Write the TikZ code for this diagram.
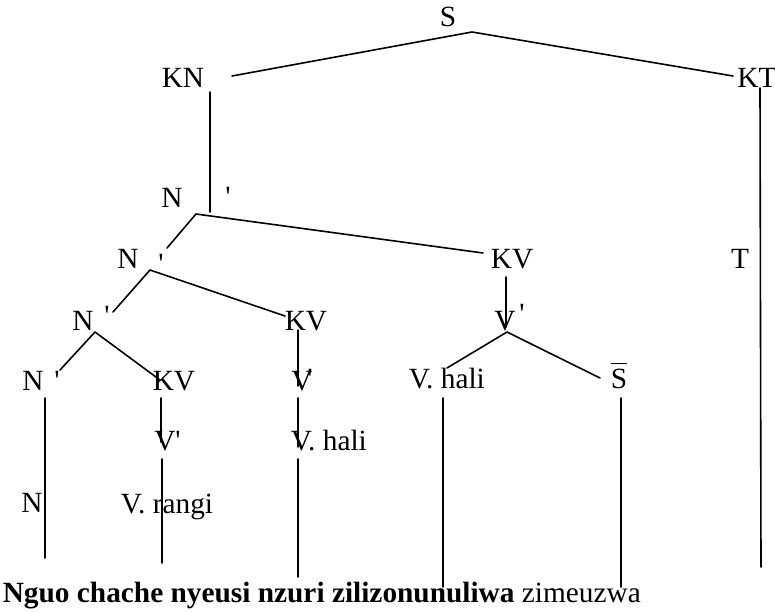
\documentclass[tikz,border=0pt]{standalone}
\usepackage{fontspec}
\setmainfont{Liberation Serif}

\begin{document}
\begin{tikzpicture}[line cap=round,line join=round,x=0.75pt,y=-0.75pt,line width=1.2pt,
  every node/.style={font=\fontsize{22}{26}\selectfont,inner sep=0pt,anchor=base}]
\useasboundingbox (0,0) rectangle (775,613);

% branch points and line ends
\coordinate (S0) at (472,32);
\coordinate (S1) at (232,76);
\coordinate (S2) at (733,76);
\coordinate (KN1) at (210,92);
\coordinate (KN2) at (210,212);
\coordinate (KT1) at (760,88);
\coordinate (KT2) at (761,567);
\coordinate (A0) at (196,214);
\coordinate (A1) at (167,248);
\coordinate (A2) at (483,253);
\coordinate (B0) at (150,270);
\coordinate (B1) at (113,312);
\coordinate (B2) at (285,316);
\coordinate (C0) at (95,332);
\coordinate (C1) at (60,370);
\coordinate (C2) at (160,380);
\coordinate (D1) at (45,398);
\coordinate (D2) at (45,558);
\coordinate (E1) at (161,398);
\coordinate (E2) at (161,442);
\coordinate (F1) at (162,459);
\coordinate (F2) at (162,563);
\coordinate (G1) at (298,330);
\coordinate (G2) at (298,386);
\coordinate (H1) at (298,398);
\coordinate (H2) at (298,447);
\coordinate (J1) at (298,459);
\coordinate (J2) at (298,577);
\coordinate (K1) at (506,277);
\coordinate (K2) at (506,327);
\coordinate (L0) at (507,332);
\coordinate (L1) at (447,368);
\coordinate (L2) at (600,378);
\coordinate (M1) at (443,398);
\coordinate (M2) at (443,587);
\coordinate (P1) at (621,398);
\coordinate (P2) at (621,587);

\draw (S1) -- (S0) -- (S2);
\draw (KN1) -- (KN2);
\draw (KT1) -- (KT2);
\draw (A1) -- (A0) -- (A2);
\draw (B1) -- (B0) -- (B2);
\draw (C1) -- (C0) -- (C2);
\draw (D1) -- (D2);
\draw (E1) -- (E2);
\draw (F1) -- (F2);
\draw (G1) -- (G2);
\draw (H1) -- (H2);
\draw (J1) -- (J2);
\draw (K1) -- (K2);
\draw (L1) -- (L0) -- (L2);
\draw (M1) -- (M2);
\draw (P1) -- (P2);

% labels
\draw[color=black] (448,27) node (S) {S};
\draw[color=black] (183,88) node (KN) {KN};
\draw[color=black] (757,88) node (KT) {KT};
\draw[color=black] (172,208) node (N1) {N};
\draw[color=black] (228,207) node (P1q) {\textquotesingle};
\draw[color=black] (128,268) node (N2) {N};
\draw[color=black] (161,273) node (P2q) {\textquotesingle};
\draw[color=black] (512,268) node (KV1) {KV};
\draw[color=black] (740,268) node (T) {T};
\draw[color=black] (83,330) node (N3) {N};
\draw[color=black] (107,325) node (P3q) {\textquotesingle};
\draw[color=black] (306,330) node (KV2) {KV};
\draw[color=black] (505,330) node (V1) {V};
\draw[color=black] (522,323) node (P4q) {\textquotesingle};
\draw[color=black] (33,390) node (N4) {N};
\draw[color=black] (57,390) node (P5q) {\textquotesingle};
\draw[color=black] (174,390) node (KV3) {KV};
\draw[color=black] (302,390) node (V2) {V};
\draw[color=black] (310,388) node (P6q) {\textquotesingle};
\draw[color=black] (408,388) node[anchor=base west] (VH1) {V. hali};
\draw[color=black] (619,388) node (SB) {$\overline{\hbox{S\rule{0pt}{17pt}}}$};
\draw[color=black] (165,450) node (V3) {V};
\draw[color=black] (178,450) node (P7q) {\textquotesingle};
\draw[color=black] (290,450) node[anchor=base west] (VH2) {V. hali};
\draw[color=black] (32,512) node (N5) {N};
\draw[color=black] (120,513) node[anchor=base west] (VR) {V. rangi};
\draw[color=black] (2,602) node[anchor=base west] (SENT) {\textbf{Nguo chache nyeusi nzuri zilizonunuliwa} zimeuzwa};

\end{tikzpicture}
\end{document}
